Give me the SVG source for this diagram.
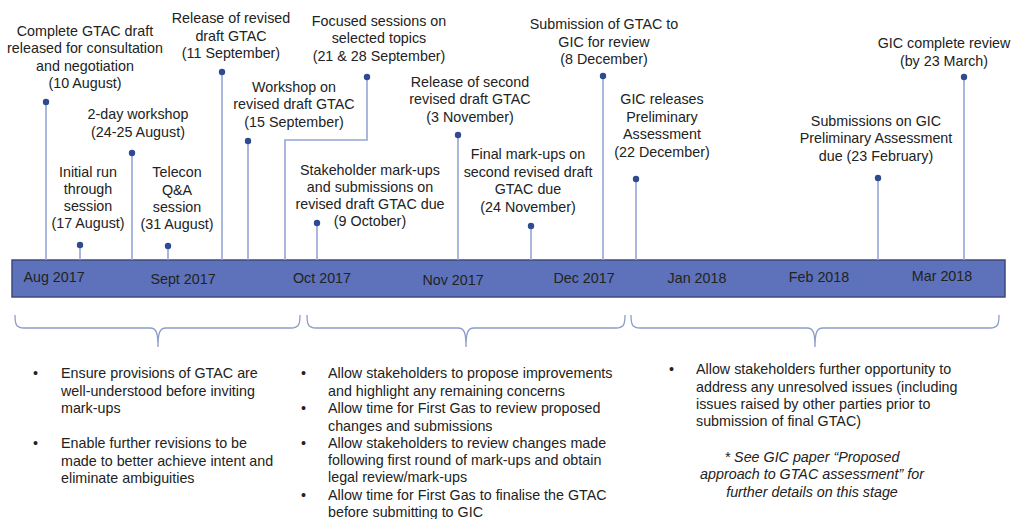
<svg xmlns="http://www.w3.org/2000/svg" width="1013" height="519" viewBox="0 0 1013 519">
<style>
.t{font-family:"Liberation Sans",Arial,sans-serif;font-size:14.3px;fill:#222;}
.c{text-anchor:middle;}
.it{font-style:italic;}
.stem{stroke:#93A5D3;stroke-width:1.6;fill:none;}
.dot{fill:#2F4A8E;}
.brace{stroke:#8C9DC9;stroke-width:1.3;fill:none;}
</style>
<rect width="1013" height="519" fill="#ffffff"/>
<g id="timeline-bar">
<rect x="12" y="260" width="993" height="37" fill="#5D72BA" stroke="#3C4A80" stroke-width="1.5"/>
<text class="t c" x="54" y="282">Aug 2017</text>
<text class="t c" x="183" y="284">Sept 2017</text>
<text class="t c" x="322" y="283">Oct 2017</text>
<text class="t c" x="453" y="285">Nov 2017</text>
<text class="t c" x="584" y="283">Dec 2017</text>
<text class="t c" x="697" y="283">Jan 2018</text>
<text class="t c" x="819" y="282">Feb 2018</text>
<text class="t c" x="942" y="281">Mar 2018</text>
</g>
<g id="connectors">
<line class="stem" x1="46" y1="102" x2="46" y2="260"/>
<line class="stem" x1="80" y1="245" x2="80" y2="260"/>
<line class="stem" x1="132" y1="153" x2="132" y2="260"/>
<line class="stem" x1="168" y1="246" x2="168" y2="260"/>
<line class="stem" x1="222" y1="72" x2="222" y2="260"/>
<line class="stem" x1="248" y1="141" x2="248" y2="260"/>
<polyline class="stem" points="285,260 285,140 367,140 367,77"/>
<line class="stem" x1="317" y1="223" x2="317" y2="260"/>
<line class="stem" x1="458" y1="135" x2="458" y2="260"/>
<line class="stem" x1="531" y1="226" x2="531" y2="260"/>
<line class="stem" x1="603" y1="76" x2="603" y2="260"/>
<line class="stem" x1="636" y1="179" x2="636" y2="260"/>
<line class="stem" x1="878" y1="178" x2="878" y2="260"/>
<line class="stem" x1="964" y1="77" x2="964" y2="260"/>
</g>
<g id="ev-10aug">
<circle class="dot" cx="46" cy="102" r="3.2"/>
<text class="t c" x="85" y="36">Complete GTAC draft</text>
<text class="t c" x="85" y="53">released for consultation</text>
<text class="t c" x="85" y="71">and negotiation</text>
<text class="t c" x="85" y="88">(10 August)</text>
</g>
<g id="ev-17aug">
<circle class="dot" cx="80" cy="245" r="3.2"/>
<text class="t c" x="88" y="177">Initial run</text>
<text class="t c" x="88" y="194">through</text>
<text class="t c" x="88" y="211">session</text>
<text class="t c" x="88" y="228">(17 August)</text>
</g>
<g id="ev-24aug">
<circle class="dot" cx="132" cy="153" r="3.2"/>
<text class="t c" x="138" y="119">2-day workshop</text>
<text class="t c" x="138" y="137">(24-25 August)</text>
</g>
<g id="ev-31aug">
<circle class="dot" cx="168" cy="246" r="3.2"/>
<text class="t c" x="177" y="177">Telecon</text>
<text class="t c" x="177" y="195">Q&amp;A</text>
<text class="t c" x="177" y="212">session</text>
<text class="t c" x="177" y="229">(31 August)</text>
</g>
<g id="ev-11sep">
<circle class="dot" cx="222" cy="72" r="3.2"/>
<text class="t c" x="231" y="23">Release of revised</text>
<text class="t c" x="231" y="41">draft GTAC</text>
<text class="t c" x="231" y="58">(11 September)</text>
</g>
<g id="ev-15sep">
<circle class="dot" cx="248" cy="141" r="3.2"/>
<text class="t c" x="294" y="92">Workshop on</text>
<text class="t c" x="294" y="109">revised draft GTAC</text>
<text class="t c" x="294" y="127">(15 September)</text>
</g>
<g id="ev-21sep">
<circle class="dot" cx="367" cy="77" r="3.2"/>
<text class="t c" x="379" y="26">Focused sessions on</text>
<text class="t c" x="379" y="43">selected topics</text>
<text class="t c" x="379" y="61">(21 &amp; 28 September)</text>
</g>
<g id="ev-9oct">
<circle class="dot" cx="317" cy="223" r="3.2"/>
<text class="t c" x="370" y="175">Stakeholder mark-ups</text>
<text class="t c" x="370" y="192">and submissions on</text>
<text class="t c" x="370" y="209">revised draft GTAC due</text>
<text class="t c" x="370" y="226">(9 October)</text>
</g>
<g id="ev-3nov">
<circle class="dot" cx="458" cy="135" r="3.2"/>
<text class="t c" x="470" y="87">Release of second</text>
<text class="t c" x="470" y="104">revised draft GTAC</text>
<text class="t c" x="470" y="122">(3 November)</text>
</g>
<g id="ev-24nov">
<circle class="dot" cx="531" cy="226" r="3.2"/>
<text class="t c" x="528" y="159">Final mark-ups on</text>
<text class="t c" x="528" y="177">second revised draft</text>
<text class="t c" x="528" y="194">GTAC due</text>
<text class="t c" x="528" y="212">(24 November)</text>
</g>
<g id="ev-8dec">
<circle class="dot" cx="603" cy="76" r="3.2"/>
<text class="t c" x="604" y="29">Submission of GTAC to</text>
<text class="t c" x="604" y="47">GIC for review</text>
<text class="t c" x="604" y="64">(8 December)</text>
</g>
<g id="ev-22dec">
<circle class="dot" cx="636" cy="179" r="3.2"/>
<text class="t c" x="662" y="104">GIC releases</text>
<text class="t c" x="662" y="122">Preliminary</text>
<text class="t c" x="662" y="139">Assessment</text>
<text class="t c" x="662" y="157">(22 December)</text>
</g>
<g id="ev-23feb">
<circle class="dot" cx="878" cy="178" r="3.2"/>
<text class="t c" x="876" y="126">Submissions on GIC</text>
<text class="t c" x="876" y="143">Preliminary Assessment</text>
<text class="t c" x="876" y="161">due (23 February)</text>
</g>
<g id="ev-23mar">
<circle class="dot" cx="964" cy="77" r="3.2"/>
<text class="t c" x="944" y="48">GIC complete review</text>
<text class="t c" x="944" y="66">(by 23 March)</text>
</g>
<g id="brace-1">
<path class="brace" d="M15,315 C15,324 16,328 24,328 L150,328 C156,328 158,332 158,347 C158,332 160,328 166,328 L291,328 C299,328 300,324 300,315"/>
</g>
<g id="brace-2">
<path class="brace" d="M307,315 C307,324 308,328 316,328 L458,328 C464,328 466,332 466,347 C466,332 468,328 474,328 L616,328 C624,328 625,324 625,315"/>
</g>
<g id="brace-3">
<path class="brace" d="M631,315 C631,324 632,328 640,328 L807,328 C813,328 815,332 815,347 C815,332 817,328 823,328 L990,328 C998,328 999,324 999,315"/>
</g>
<g id="notes-1">
<text class="t" x="33" y="378">•</text>
<text class="t" x="61" y="378">Ensure provisions of GTAC are</text>
<text class="t" x="61" y="396">well-understood before inviting</text>
<text class="t" x="61" y="413">mark-ups</text>
<text class="t" x="33" y="448">•</text>
<text class="t" x="61" y="448">Enable further revisions to be</text>
<text class="t" x="61" y="466">made to better achieve intent and</text>
<text class="t" x="61" y="483">eliminate ambiguities</text>
</g>
<g id="notes-2">
<text class="t" x="301" y="378">•</text>
<text class="t" x="328" y="378">Allow stakeholders to propose improvements</text>
<text class="t" x="328" y="396">and highlight any remaining concerns</text>
<text class="t" x="301" y="413">•</text>
<text class="t" x="328" y="413">Allow time for First Gas to review proposed</text>
<text class="t" x="328" y="431">changes and submissions</text>
<text class="t" x="301" y="448">•</text>
<text class="t" x="328" y="448">Allow stakeholders to review changes made</text>
<text class="t" x="328" y="465">following first round of mark-ups and obtain</text>
<text class="t" x="328" y="482">legal review/mark-ups</text>
<text class="t" x="301" y="500">•</text>
<text class="t" x="328" y="500">Allow time for First Gas to finalise the GTAC</text>
<text class="t" x="328" y="517">before submitting to GIC</text>
</g>
<g id="notes-3">
<text class="t" x="669" y="374">•</text>
<text class="t" x="696" y="374">Allow stakeholders further opportunity to</text>
<text class="t" x="696" y="392">address any unresolved issues (including</text>
<text class="t" x="696" y="409">issues raised by other parties prior to</text>
<text class="t" x="696" y="426">submission of final GTAC)</text>
<text class="t c it" x="812" y="462">* See GIC paper “Proposed</text>
<text class="t c it" x="812" y="479">approach to GTAC assessment” for</text>
<text class="t c it" x="812" y="497">further details on this stage</text>
</g>
</svg>
